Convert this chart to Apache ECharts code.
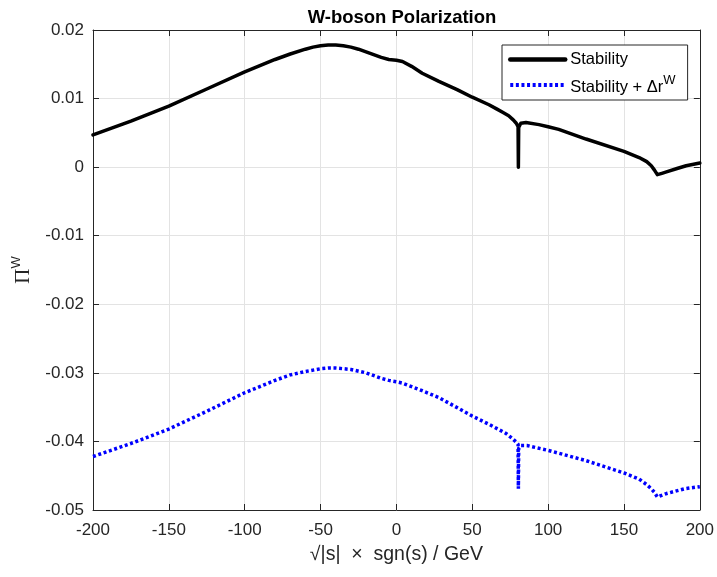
<!DOCTYPE html>
<html>
<head>
<meta charset="utf-8">
<script src="https://cdn.jsdelivr.net/npm/echarts@6/dist/echarts.min.js"></script>
<style>html,body{margin:0;padding:0;background:#fff;}#c{width:717px;height:577px;}</style>
</head>
<body>
<div id="c"></div>
<script>
var stabX = [-200,-175,-150,-125,-100,-90,-80,-70,-60,-55,-50,-45,-40,-35,-30,-25,-20,-15,-10,-5,0,4,10,17,28,40,50,61,66,70,74,77,79,80.2,80.4,80.6,82,85.4,94,100,107,125,150,160,165,168,170,172,175,178,185,191,200];
var stabY = [0.0047,0.0067,0.0089,0.0114,0.0139,0.0148,0.0157,0.0165,0.0172,0.0175,0.0177,0.0178,0.0178,0.0177,0.0175,0.0172,0.0168,0.0164,0.0160,0.0157,0.0156,0.0154,0.0147,0.0137,0.0125,0.0113,0.0102,0.0091,0.0085,0.0080,0.0075,0.0069,0.0064,0.0059,0.0000,0.0058,0.0064,0.0065,0.0062,0.0059,0.0055,0.0041,0.0023,0.0014,0.0008,0.0002,-0.0004,-0.0011,-0.0009,-0.0007,-0.0002,0.0002,0.0006];
var drX = [-200,-175,-150,-125,-100,-90,-80,-70,-60,-50,-45,-40,-30,-20,-10,-5,0,4,10,17,28,50,61,72,76,79,80.2,80.4,80.6,82,86,100,125,150,160,165,168,170,172,178,190,200];
var drY = [-0.0422,-0.0403,-0.0382,-0.0356,-0.0329,-0.0320,-0.0311,-0.0303,-0.0298,-0.0294,-0.0293,-0.0293,-0.0295,-0.0300,-0.0308,-0.0311,-0.0313,-0.0315,-0.0320,-0.0326,-0.0336,-0.0363,-0.0375,-0.0388,-0.0395,-0.0401,-0.0404,-0.0469,-0.0410,-0.0406,-0.0406,-0.0413,-0.0428,-0.0446,-0.0455,-0.0463,-0.0469,-0.0474,-0.0481,-0.0476,-0.0469,-0.0466];
var xTicks = {min:-200, max:200, step:50};
var yTicks = {min:-0.05, max:0.02, step:0.01};
var seriesNames = ['Stability', 'Stability + \u0394r^W'];

function zip(a,b){return a.map(function(v,i){return [v,b[i]];});}
var FONT = 'Liberation Sans';
var TXT = '#262626';
var chart = echarts.init(document.getElementById('c'), null, {renderer:'canvas'});
var yFmt = function(v){ if (Math.abs(v) < 1e-9) return '0'; return (Math.round(v*100)/100).toString(); };
var axisCommon = {
  type:'value',
  axisLine:{show:true, onZero:false, lineStyle:{color:TXT, width:1}},
  axisTick:{show:true, inside:true, length:6, lineStyle:{color:TXT}},
  splitLine:{show:false}
};
chart.setOption({
  animation:false,
  backgroundColor:'#fff',
  title:{text:'W-boson Polarization', left:397, top:3, textAlign:'center',
    textStyle:{fontFamily:FONT, fontSize:18.5, fontWeight:'bold', color:'#000'}},
  grid:{left:93, right:16, top:30, bottom:67, containLabel:false},
  legend:{
    left:502, top:45, orient:'vertical', itemWidth:55, itemHeight:14, itemGap:6,
    padding:[6,12,4,6], borderColor:TXT, borderWidth:1, backgroundColor:'#fff',
    itemStyle:{opacity:0},
    data:[{name:seriesNames[0], lineStyle:{width:4.5}}, {name:seriesNames[1], lineStyle:{width:4, type:[3,2.6]}}],
    formatter:function(n){ return n==='Stability' ? n : '{t|Stability + \u0394r}{s|W}'; },
    textStyle:{fontFamily:FONT, fontSize:16.5, color:'#000',
      rich:{t:{fontFamily:FONT, fontSize:16.5, color:'#000', verticalAlign:'bottom', lineHeight:22},
            s:{fontFamily:FONT, fontSize:13, color:'#000', verticalAlign:'top', lineHeight:12}}}
  },
  xAxis:[
    Object.assign({}, axisCommon, {min:xTicks.min, max:xTicks.max, interval:xTicks.step, position:'bottom',
      splitLine:{show:true, lineStyle:{color:'#e3e3e3', width:1}},
      axisLabel:{fontFamily:FONT, fontSize:17, color:TXT, margin:12},
      name:'\u221A|s|  \u00D7  sgn(s) / GeV', nameLocation:'middle', nameGap:35,
      nameTextStyle:{fontFamily:FONT, fontSize:19.5, color:TXT}}),
    Object.assign({}, axisCommon, {min:xTicks.min, max:xTicks.max, interval:xTicks.step, position:'top',
      axisLabel:{show:false}})
  ],
  yAxis:[
    Object.assign({}, axisCommon, {min:yTicks.min, max:yTicks.max, interval:yTicks.step, position:'left',
      splitLine:{show:true, lineStyle:{color:'#e3e3e3', width:1}},
      axisLabel:{fontFamily:FONT, fontSize:17, color:TXT, margin:9, formatter:yFmt},
      name:'{p|\u03A0}{s|W}', nameLocation:'middle', nameGap:58, nameRotate:90,
      nameTextStyle:{rich:{p:{fontFamily:'Liberation Serif', fontSize:21, color:TXT, verticalAlign:'bottom', lineHeight:24},
                          s:{fontFamily:FONT, fontSize:13, color:TXT, verticalAlign:'top', lineHeight:12}}}}),
    Object.assign({}, axisCommon, {min:yTicks.min, max:yTicks.max, interval:yTicks.step, position:'right',
      axisLabel:{show:false}})
  ],
  series:[
    {name:seriesNames[0], type:'line', data:zip(stabX,stabY), showSymbol:false, symbol:'none', smooth:false,
     lineStyle:{color:'#000', width:3.5, join:'round', cap:'round'}, itemStyle:{color:'#000'}, z:3},
    {name:seriesNames[1], type:'line', data:zip(drX,drY), showSymbol:false, symbol:'none', smooth:false,
     lineStyle:{color:'#0000ff', width:3.5, type:[3,2.6]}, itemStyle:{color:'#0000ff'}, z:2}
  ]
});
</script>
</body>
</html>
